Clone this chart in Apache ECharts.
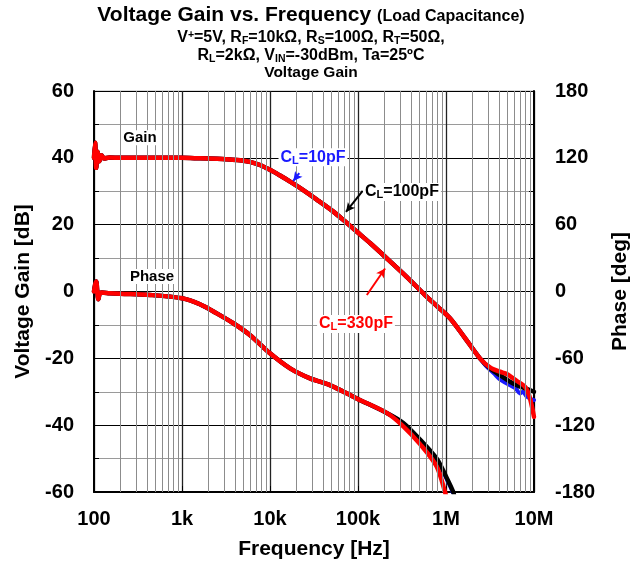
<!DOCTYPE html>
<html>
<head>
<meta charset="utf-8">
<script src="https://cdn.jsdelivr.net/npm/echarts@6/dist/echarts.min.js"></script>
<style>
  html, body { margin: 0; padding: 0; background: #fff; }
  #chart { width: 640px; height: 565px; }
</style>
</head>
<body>
<div id="chart"></div>
<script>
// Frequency axis tick labels (one per decade, 100 Hz .. 10 MHz)
const xTickLabels = ['100', '1k', '10k', '100k', '1M', '10M'];

// Gain [dB]: part shared by all load capacitances
const gainFreqLow = [100, 103, 106, 110, 115, 122, 130, 150, 200, 300, 500, 1000, 1600, 2500, 3500, 4560, 5900,
  7700, 10000, 13000, 16900, 21900, 34000, 52500, 71000, 96600, 137000, 203000, 357000, 577000, 800000,
  1110000, 1600000, 2430000];
const gainLow = [40, 44.5, 37, 41.8, 39, 40.8, 39.8, 40.1, 40, 40, 40, 40, 39.85, 39.7, 39.5, 39.3, 38.8,
  37.85, 36.4, 34.7, 32.9, 31, 27.5, 23.9, 21.0, 17.95, 14.5, 10.4, 4.4, -1.05, -4.5,
  -8, -13.5, -20];

// Gain [dB] above ~2.5 MHz, per load capacitance
const gainFreqHigh10 = [2900000, 3500000, 4100000, 5300000, 6200000, 6900000, 7500000, 8300000, 10000000];
const gainHigh10 = [-22.5, -24.5, -26.3, -28, -29, -30.5, -30, -31.5, -32.5];
const gainFreqHigh100 = [3160000, 4100000, 5800000, 7900000, 10000000];
const gainHigh100 = [-23, -25, -27.5, -29, -30];
const gainFreqHigh330 = [3160000, 4100000, 4900000, 6350000, 7900000, 8900000, 10000000];
const gainHigh330 = [-22.7, -24, -24.7, -26.7, -28.5, -31.5, -37.5];

// Phase [deg]: part shared by all load capacitances
const phaseFreqLow = [100, 103, 106, 109, 112, 116, 122, 150, 200, 433, 1000, 1600, 2480, 3830, 5900,
  10000, 16900, 28500, 48000, 96600, 212000];
const phaseLow = [0, 6, 9, 0, -7, -2, -1, -1.5, -2, -3.1, -6.1, -11.5, -19.6, -28.5, -39,
  -55.5, -69, -78, -84, -96, -109];

// Phase [deg] above ~300 kHz, per load capacitance
const phaseFreqHigh10 = [327000, 507000, 783000, 1000000, 1190000, 1220000];
const phaseHigh10 = [-118.5, -134, -151, -167, -180, -184];
const phaseFreqHigh100 = [327000, 507000, 783000, 1000000, 1210000, 1240000];
const phaseHigh100 = [-118, -133, -150, -166, -180, -184];
const phaseFreqHigh330 = [327000, 507000, 783000, 975000, 1010000];
const phaseHigh330 = [-121, -137, -157, -180, -185];

const FONT = '"Liberation Sans", Arial, Helvetica, sans-serif';
const BLUE = '#1a1aff', BLACK = '#000000', RED = '#ff0000';

const pairs = (fs, vs) => fs.map((f, i) => [f, vs[i]]);
const joined = (f1, v1, f2, v2) => pairs(f1, v1).concat(pairs(f2, v2));

// Log-decade minor grid positions (2..9 x each decade)
const minorX = [];
for (let d = 100; d < 1e7; d *= 10) for (let k = 2; k <= 9; k++) minorX.push(k * d);

function curve(name, color, width, data, yIdx, extra) {
  return Object.assign({
    name, type: 'line', data, yAxisIndex: yIdx, showSymbol: false, symbol: 'none',
    smooth: 0.3, clip: true, z: 3, silent: true,
    lineStyle: { color, width, join: 'round', cap: 'round' }, itemStyle: { color }
  }, extra || {});
}

function arrow(color, from, to) {
  return {
    silent: true, symbol: ['none', 'arrow'], symbolSize: [7, 9],
    label: { show: false }, emphasis: { disabled: true },
    lineStyle: { color, width: 2, type: 'solid' },
    data: [[{ coord: from }, { coord: to }]]
  };
}

const axisText = { color: '#000', fontSize: 20, fontWeight: 'bold', fontFamily: FONT };
const nameText = { color: '#000', fontSize: 21, fontWeight: 'bold', fontFamily: FONT };

const option = {
  animation: false,
  backgroundColor: '#fff',
  grid: { left: 94, right: 106, top: 91, bottom: 73, show: true, borderColor: '#b5b5b5', borderWidth: 1 },
  xAxis: {
    type: 'log', logBase: 10, min: 100, max: 1e7,
    axisLine: { onZero: false, lineStyle: { color: '#000', width: 2 } },
    axisTick: { inside: true, length: 6, lineStyle: { color: '#000', width: 1 } },
    axisLabel: { ...axisText, margin: 17, formatter: v => xTickLabels[Math.round(Math.log10(v)) - 2] },
    splitLine: { show: true, lineStyle: { color: '#222', width: 1.3 } },
    name: 'Frequency [Hz]', nameLocation: 'middle', nameGap: 47, nameTextStyle: nameText
  },
  yAxis: [{
    type: 'value', min: -60, max: 60, interval: 20, position: 'left',
    axisLine: { show: true, lineStyle: { color: '#000', width: 2 } },
    axisTick: { show: true, inside: true, length: 5, lineStyle: { color: '#000' } },
    minorTick: { show: true, splitNumber: 2, length: 5, lineStyle: { color: '#000' } },
    splitLine: { show: true, lineStyle: { color: '#000', width: 1.2 } },
    minorSplitLine: { show: true, lineStyle: { color: '#9a9a9a', width: 1 } },
    axisLabel: { ...axisText, margin: 20 },
    name: 'Voltage Gain [dB]', nameLocation: 'middle', nameRotate: 90, nameGap: 58, nameTextStyle: nameText
  }, {
    type: 'value', min: -180, max: 180, interval: 60, position: 'right',
    axisLine: { show: true, lineStyle: { color: '#000', width: 2 } },
    axisTick: { show: true, inside: true, length: 5, lineStyle: { color: '#000' } },
    minorTick: { show: true, splitNumber: 2, length: 5, lineStyle: { color: '#000' } },
    splitLine: { show: false },
    axisLabel: { ...axisText, margin: 21 },
    name: 'Phase [deg]', nameLocation: 'middle', nameRotate: 90, nameGap: 76, nameTextStyle: nameText
  }],
  series: [
    {
      name: 'minor-grid', type: 'line', data: [], yAxisIndex: 0, z: 1, silent: true,
      markLine: {
        silent: true, symbol: ['none', 'none'], label: { show: false }, emphasis: { disabled: true },
        lineStyle: { color: '#8c8c8c', width: 1, type: 'solid' },
        data: minorX.map(x => ({ xAxis: x }))
      }
    },
    curve('Gain CL=10pF', BLUE, 4, joined(gainFreqLow, gainLow, gainFreqHigh10, gainHigh10), 0,
      { markLine: arrow(BLUE, [21500, 35.4], [18400, 33.1]) }),
    curve('Gain CL=100pF', BLACK, 4.5, joined(gainFreqLow, gainLow, gainFreqHigh100, gainHigh100), 0,
      { markLine: arrow(BLACK, [113000, 30.1], [73000, 23.8]) }),
    curve('Gain CL=330pF', RED, 4.5, joined(gainFreqLow, gainLow, gainFreqHigh330, gainHigh330), 0,
      { markLine: arrow(RED, [126000, -1.05], [203000, 6.9]) }),
    curve('Phase CL=10pF', BLUE, 4, joined(phaseFreqLow, phaseLow, phaseFreqHigh10, phaseHigh10), 1),
    curve('Phase CL=100pF', BLACK, 4.5, joined(phaseFreqLow, phaseLow, phaseFreqHigh100, phaseHigh100), 1),
    curve('Phase CL=330pF', RED, 4.5, joined(phaseFreqLow, phaseLow, phaseFreqHigh330, phaseHigh330), 1)
  ]
};

const chart = echarts.init(document.getElementById('chart'), null, { renderer: 'canvas' });
chart.setOption(option);

// Text styles for titles and in-plot labels
function tok(size, color, extra) {
  return Object.assign({ fontSize: size, fontWeight: 'bold', fontFamily: FONT, fill: color }, extra || {});
}
function richSet(size, subSize, color) {
  return {
    b: tok(size, color),
    sub: tok(subSize, color, { padding: [Math.round(size * 0.45), 0, 0, 0] }),
    sup: tok(subSize, color, { padding: [0, 0, Math.round(size * 0.4), 0] })
  };
}
const toPx = (f, v) => chart.convertToPixel({ xAxisIndex: 0, yAxisIndex: 0 }, [f, v]);

function plotLabel(text, at, color, size) {
  const p = toPx(at[0], at[1]);
  return {
    type: 'text', x: p[0], y: p[1], z: 50, silent: true,
    style: {
      text, rich: richSet(size, 11, color), fill: color,
      fontSize: size, fontWeight: 'bold', fontFamily: FONT,
      align: 'center', verticalAlign: 'middle', backgroundColor: '#fff', padding: [0, 2]
    }
  };
}

function titleLine(text, y, rich) {
  return {
    type: 'text', x: 311, y, z: 50, silent: true,
    style: { text, rich, align: 'center', verticalAlign: 'middle', fill: '#000', fontFamily: FONT, fontWeight: 'bold' }
  };
}

const sub16 = richSet(16, 10.5, '#000');
chart.setOption({
  graphic: [
    titleLine('{t|Voltage Gain vs. Frequency }{s|(Load Capacitance)}', 15, {
      t: tok(21, '#000'), s: tok(16, '#000', { verticalAlign: 'bottom', padding: [0, 0, 1, 0] })
    }),
    titleLine('{b|V}{sup|+}{b|=5V, R}{sub|F}{b|=10kΩ, R}{sub|S}{b|=100Ω, R}{sub|T}{b|=50Ω,}', 38, sub16),
    titleLine('{b|R}{sub|L}{b|=2kΩ, V}{sub|IN}{b|=-30dBm, Ta=25ºC}', 56, sub16),
    titleLine('{b|Voltage Gain}', 73, { b: tok(15.5, '#000') }),
    plotLabel('{b|Gain}', [333, 46], '#000', 15),
    plotLabel('{b|Phase}', [456, 4.5], '#000', 15),
    plotLabel('{b|C}{sub|L}{b|=10pF}', [30800, 40.2], BLUE, 16),
    plotLabel('{b|C}{sub|L}{b|=100pF}', [316000, 29.8], BLACK, 16),
    plotLabel('{b|C}{sub|L}{b|=330pF}', [94900, -9.7], RED, 16)
  ]
});
</script>
</body>
</html>
